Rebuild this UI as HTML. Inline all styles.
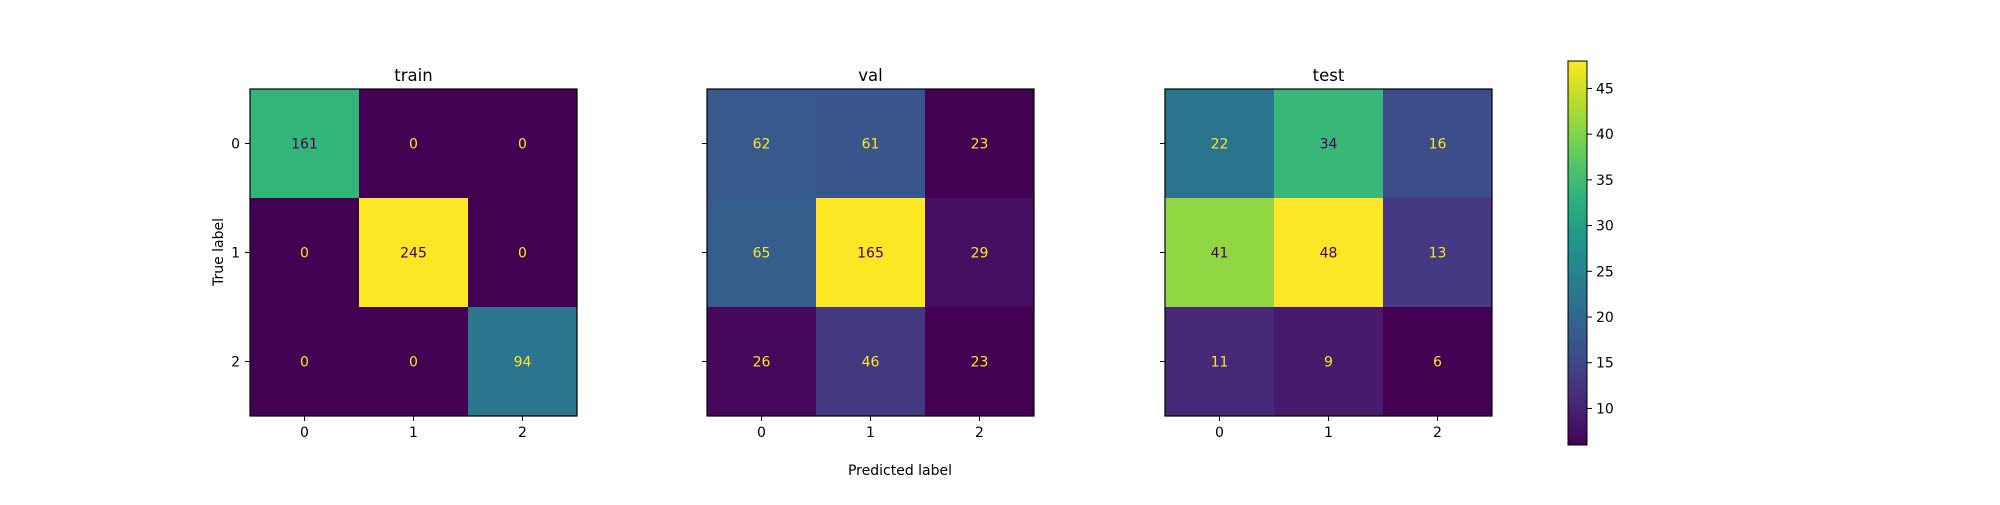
<!DOCTYPE html>
<html><head><meta charset="utf-8"><style>
html,body{margin:0;padding:0;background:#fff}
svg text{font-family:"DejaVu Sans","Liberation Sans",sans-serif}
</style></head><body>
<svg id="chart" width="2000" height="500" xmlns="http://www.w3.org/2000/svg">
<defs><linearGradient id="cbgrad" x1="0" y1="1" x2="0" y2="0"></linearGradient></defs>
</svg>
<script>
const classLabels = ["0","1","2"];
const trainValues = [[161,0,0],[0,245,0],[0,0,94]];
const valValues = [[62,61,23],[65,165,29],[26,46,23]];
const testValues = [[22,34,16],[41,48,13],[11,9,6]];
const panelTitles = ["train","val","test"];
const colorbarTicks = [10,15,20,25,30,35,40,45];

const VIR = ["#440154","#482173","#433e85","#38588c","#2d708e","#25858e","#1e9b8a","#2ab07f","#52c569","#86d549","#c2df23","#fde725"];
function hex(h){return [1,3,5].map(i=>parseInt(h.substr(i,2),16));}
function viridis(t){t=Math.max(0,Math.min(1,t));const p=t*(VIR.length-1);const i=Math.min(Math.floor(p),VIR.length-2);const f=p-i;const a=hex(VIR[i]),b=hex(VIR[i+1]);return "rgb("+a.map((v,k)=>Math.round(v+(b[k]-v)*f)).join(",")+")";}

const svg=document.getElementById("chart");
const NS="http://www.w3.org/2000/svg";
function mk(tag,attrs,parent){const e=document.createElementNS(NS,tag);for(const k in attrs)e.setAttribute(k,attrs[k]);(parent||svg).appendChild(e);return e;}

const panelLeft=[250,707,1165];
const top0=89, size=327;
const mats=[trainValues,valValues,testValues];
mats.forEach((m,p)=>{
  const g=mk("g",{});
  
  
  const flat=m.flat();const mn=Math.min(...flat),mx=Math.max(...flat);
  const thr=(mn+mx)/2;
  const n=classLabels.length, cs=size/n, L=panelLeft[p];
  const xs=i=>L+cs*(i+0.5), ys=i=>top0+cs*(i+0.5);
  for(let r=0;r<n;r++)for(let c=0;c<n;c++){
    const v=m[r][c];
    const rc=mk("rect",{x:L+c*cs,y:top0+r*cs,width:cs+0.5,height:cs+0.5,fill:viridis((v-mn)/(mx-mn))},g);
    
    
    const t=mk("text",{x:xs(c),y:ys(r)+5,"text-anchor":"middle","font-size":14,fill:v>=thr?"#440154":"#fde725"},g);
    t.textContent=v;
    
    
  }
  mk("rect",{x:L,y:top0,width:size,height:size,fill:"none",stroke:"#000","stroke-width":1.2},g);
  classLabels.forEach((lab,i)=>{
    mk("line",{x1:xs(i),x2:xs(i),y1:top0+size,y2:top0+size+5,stroke:"#000"},g);
    const tx=mk("text",{x:xs(i),y:top0+size+21,"text-anchor":"middle","font-size":14,fill:"#000"},g);
    tx.textContent=lab;
    
    
    mk("line",{x1:L-5,x2:L,y1:ys(i),y2:ys(i),stroke:"#000"},g);
    if(p===0){
      const ty=mk("text",{x:L-10,y:ys(i)+5,"text-anchor":"end","font-size":14,fill:"#000"},g);
      ty.textContent=lab;
      
      
    }
  });
  const tt=mk("text",{x:L+size/2,y:top0-8,"text-anchor":"middle","font-size":16.5,fill:"#000"},g);
  tt.textContent=panelTitles[p];
  
  
});

const yl=mk("text",{x:0,y:0,transform:"translate(223,252) rotate(-90)","text-anchor":"middle","font-size":14,fill:"#000"});
yl.textContent="True label";


const xl=mk("text",{x:900,y:475,"text-anchor":"middle","font-size":14,fill:"#000"});
xl.textContent="Predicted label";



// colorbar
const tf=testValues.flat();const cmin=Math.min(...tf),cmax=Math.max(...tf);
const grad=document.getElementById("cbgrad");
for(let i=0;i<=20;i++)mk("stop",{offset:(i/20),"stop-color":viridis(i/20)},grad);
const cbX=1568,cbW=19,cbTop=61,cbBot=445;
const cbY=v=>cbBot-(v-cmin)/(cmax-cmin)*(cbBot-cbTop);
const cb=mk("rect",{x:cbX,y:cbTop,width:cbW,height:cbBot-cbTop,fill:"url(#cbgrad)",stroke:"#000","stroke-width":1});


colorbarTicks.forEach(v=>{
  mk("line",{x1:cbX+cbW,x2:cbX+cbW+5,y1:cbY(v),y2:cbY(v),stroke:"#000"});
  const t=mk("text",{x:cbX+cbW+9,y:cbY(v)+5,"font-size":14,fill:"#000"});
  t.textContent=v;
  
  
});
</script>
</body></html>
